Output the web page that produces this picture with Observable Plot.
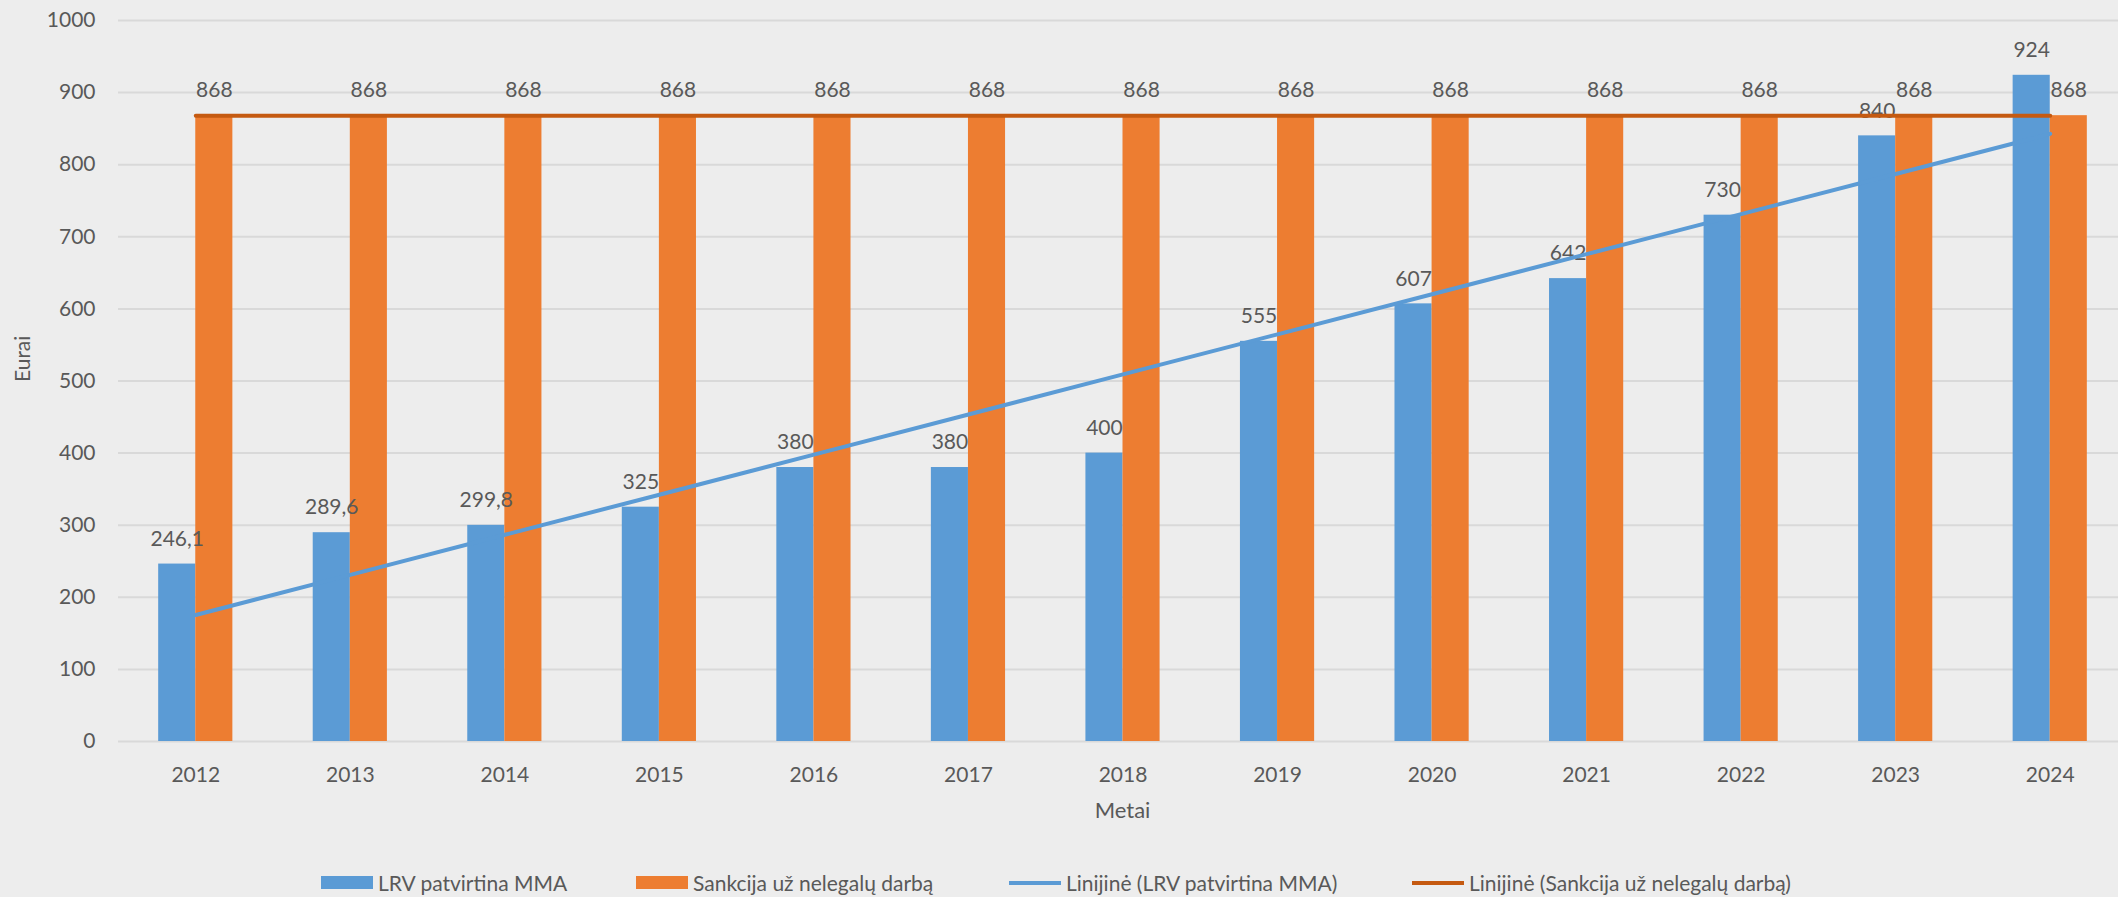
<!DOCTYPE html>
<html>
<head>
<meta charset="utf-8">
<script src="https://cdn.jsdelivr.net/npm/d3@7"></script>
<script src="https://cdn.jsdelivr.net/npm/@observablehq/plot@0.6"></script>
<style>
  html, body { margin: 0; padding: 0; background: #ededed; }
  #wrap { width: 2118px; height: 897px; position: relative; overflow: hidden; background: #ededed; }
  #legend { position: relative; height: 37px; font-family: Lato, sans-serif; font-size: 21px; color: #595959; }
  #legend .item { position: absolute; top: 4px; height: 37px; display: flex; align-items: center; }
  #legend .sw { display: inline-block; margin-right: 5px; }
</style>
</head>
<body>
<div id="wrap">
  <div id="chart"></div>
  <div id="legend"></div>
</div>
<script>
// ---- data ----
const years = [2012, 2013, 2014, 2015, 2016, 2017, 2018, 2019, 2020, 2021, 2022, 2023, 2024];
const mma = [246.1, 289.6, 299.8, 325, 380, 380, 400, 555, 607, 642, 730, 840, 924];
const sankcija = [868, 868, 868, 868, 868, 868, 868, 868, 868, 868, 868, 868, 868];
const yTicks = [0, 100, 200, 300, 400, 500, 600, 700, 800, 900, 1000];
const seriesNames = ["LRV patvirtina MMA", "Sankcija už nelegalų darbą", "Linijinė (LRV patvirtina MMA)", "Linijinė (Sankcija už nelegalų darbą)"];
const axisTitles = {x: "Metai", y: "Eurai"};

// ---- styles ----
const BLUE = "#5B9BD5", ORANGE = "#ED7D31", ORANGE_TREND = "#C55A11", TEXT = "#595959", GRID = "#d9d9d9";

const rows = years.map((year, i) => ({year, mma: mma[i], sankcija: sankcija[i]}));

// linear trendlines (least squares, as in the spreadsheet's "Linijinė")
function trend(values) {
  const xs = values.map((_, i) => i);
  const mx = d3.mean(xs), my = d3.mean(values);
  const sxy = d3.sum(xs, (x, i) => (x - mx) * (values[i] - my));
  const sxx = d3.sum(xs, x => (x - mx) ** 2);
  const b = sxy / sxx, a = my - b * mx;
  return years.map((year, i) => ({year, v: a + b * i}));
}
const trendMma = trend(mma);
const trendSank = trend(sankcija);

const W = 2118, H = 860;
const rangeX = [118, 2127];
const padInner = 0.52, padOuter = 0.26;
const step = (rangeX[1] - rangeX[0]) / (years.length - padInner + 2 * padOuter);
const half = step * (1 - padInner) / 2;

const fmt = v => String(v).replace(".", ",");

const chart = Plot.plot({
  width: W,
  height: H,
  marginTop: 20,
  marginBottom: 119,
  marginLeft: 118,
  marginRight: 0,
  style: {background: "transparent", fontFamily: "Lato, sans-serif", fontSize: "21px", color: TEXT, overflow: "visible"},
  x: {type: "band", domain: years, range: rangeX, paddingInner: padInner, paddingOuter: padOuter, round: false, axis: null, label: null},
  y: {domain: [0, 1000], axis: null, label: null},
  marks: [
    Plot.gridY(yTicks, {stroke: GRID, strokeOpacity: 1, strokeWidth: 2}),
    Plot.axisY(yTicks, {tickSize: 0, tickPadding: 23, fill: TEXT, fontSize: 21, label: null, tickFormat: d => String(d)}),
    Plot.axisX(years, {tickSize: 0, tickPadding: 26, fill: TEXT, fontSize: 21, label: null, tickFormat: d => String(d)}),
    Plot.barY(rows, {x: "year", y: "mma", fill: BLUE, insetRight: half}),
    Plot.barY(rows, {x: "year", y: "sankcija", fill: ORANGE, insetLeft: half}),
    Plot.text(rows, {x: "year", y: "mma", text: d => fmt(d.mma), dx: -half / 2, dy: -25, fill: TEXT, fontSize: 21}),
    Plot.text(rows, {x: "year", y: "sankcija", text: d => fmt(d.sankcija), dx: half / 2, dy: -25, fill: TEXT, fontSize: 21}),
    Plot.line(trendMma, {x: "year", y: "v", stroke: BLUE, strokeWidth: 4}),
    Plot.line(trendSank, {x: "year", y: "v", stroke: ORANGE_TREND, strokeWidth: 4}),
    Plot.text([axisTitles.y], {frameAnchor: "left", dx: -95, dy: 1, rotate: -90, fill: TEXT, fontSize: 21}),
    Plot.text([axisTitles.x], {frameAnchor: "bottom", dx: 4, dy: 76, fill: TEXT, fontSize: 22})
  ]
});
document.getElementById("chart").appendChild(chart);

// ---- legend ----
const legend = document.getElementById("legend");
const legendItems = [
  {name: seriesNames[0], kind: "rect", color: BLUE, left: 321},
  {name: seriesNames[1], kind: "rect", color: ORANGE, left: 636},
  {name: seriesNames[2], kind: "line", color: BLUE, left: 1009},
  {name: seriesNames[3], kind: "line", color: ORANGE_TREND, left: 1412}
];
for (const it of legendItems) {
  const item = document.createElement("div");
  item.className = "item";
  item.style.left = it.left + "px";
  const sw = document.createElement("span");
  sw.className = "sw";
  sw.style.width = "52px";
  sw.style.height = it.kind === "rect" ? "13px" : "4px";
  sw.style.background = it.color;
  const label = document.createElement("span");
  label.textContent = it.name;
  item.appendChild(sw);
  item.appendChild(label);
  legend.appendChild(item);
}
</script>
</body>
</html>
